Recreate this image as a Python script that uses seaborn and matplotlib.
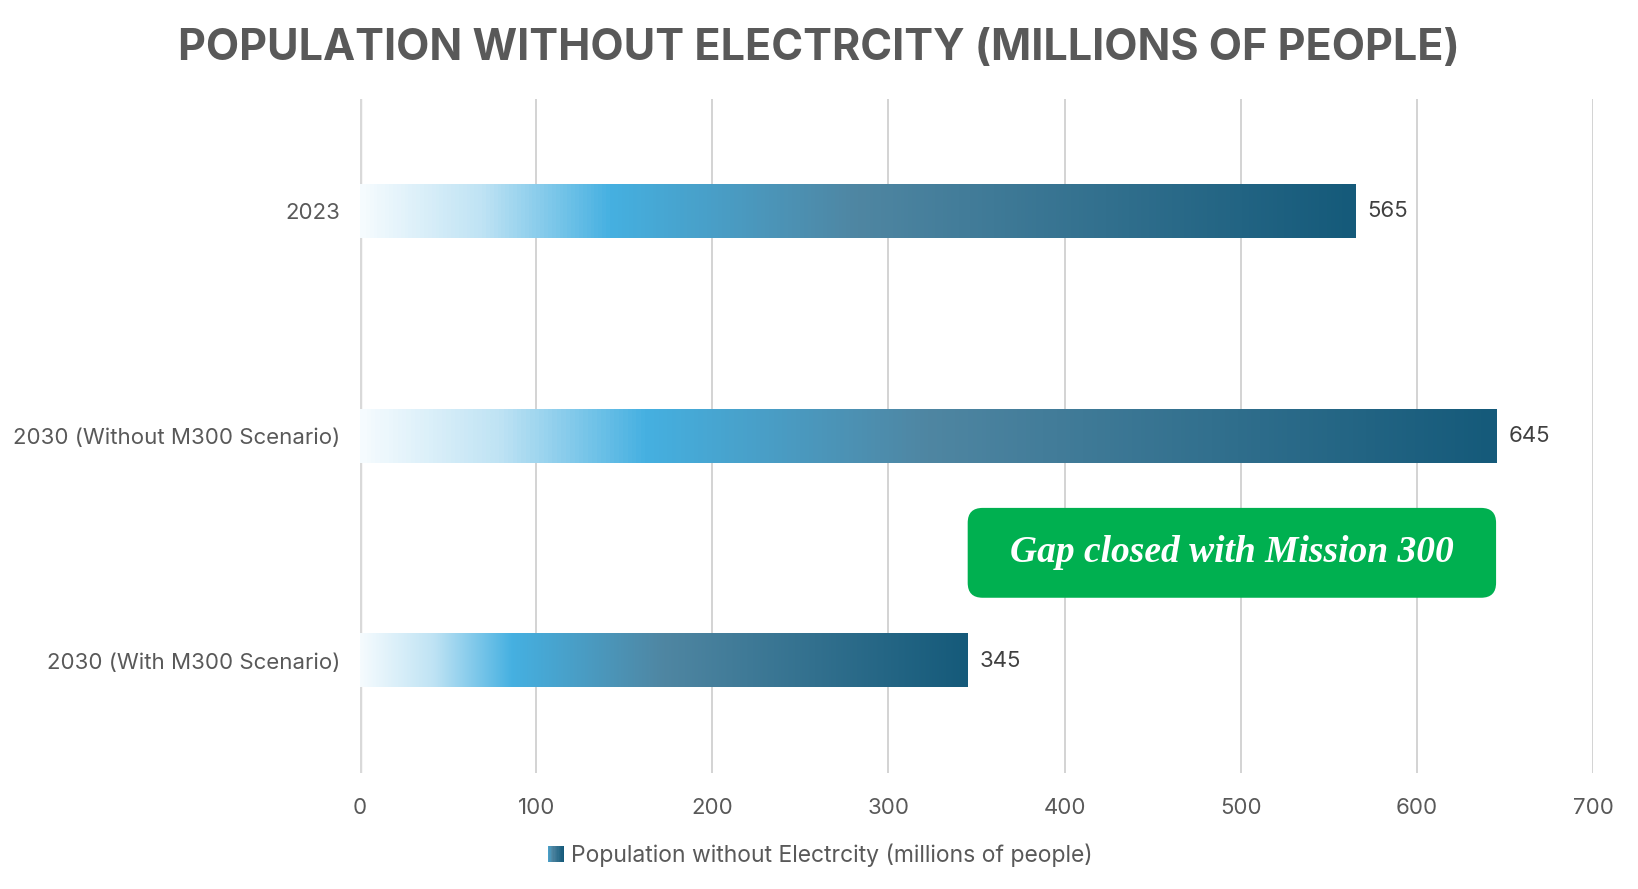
import matplotlib
matplotlib.use("Agg")
import numpy as np
import pandas as pd
import matplotlib.pyplot as plt
import seaborn as sns
from matplotlib.colors import LinearSegmentedColormap
from matplotlib.patches import FancyBboxPatch, Rectangle
from matplotlib.legend_handler import HandlerBase

# ---------------------------------------------------
# Data
# ---------------------------------------------------
categories = ["2023", "2030 (Without M300 Scenario)", "2030 (With M300 Scenario)"]
values = [565, 645, 345]
series_name = "Population without Electrcity (millions of people)"
title = "POPULATION WITHOUT ELECTRCITY (MILLIONS OF PEOPLE)"
note = "Gap closed with Mission 300"
gap_start, gap_end = 345, 645

df = pd.DataFrame({"category": categories, "value": values})

grey = "#595959"
bar_cmap = LinearSegmentedColormap.from_list(
    "bar_grad",
    [(0.0, "#f5fbfe"), (0.12, "#bfe3f4"), (0.25, "#45b0e1"),
     (0.5, "#4f86a2"), (1.0, "#155a7a")],
)

# ---------------------------------------------------
# Figure
# ---------------------------------------------------
sns.set_style("white")
plt.rcParams["font.family"] = ["Inter", "DejaVu Sans"]

fig = plt.figure(figsize=(16.38, 8.89), dpi=100)
ax = fig.add_axes([0.2198, 0.1305, 0.7527, 0.7581])

sns.barplot(data=df, x="value", y="category", orient="h", width=0.236,
            color="#2a7fa8", ax=ax)

# replace flat bars with horizontal gradients
grad = np.linspace(0, 1, 256).reshape(1, -1)
for patch in ax.patches:
    x0, y0 = patch.get_x(), patch.get_y()
    w, h = patch.get_width(), patch.get_height()
    patch.set_visible(False)
    ax.imshow(grad, extent=[x0, x0 + w, y0 + h, y0], aspect="auto",
              cmap=bar_cmap, zorder=2, interpolation="bilinear")
    ax.text(x0 + w + 7, y0 + h / 2, f"{w:.0f}", va="center", ha="left",
            fontsize=16, color="#404040")

ax.set_xlim(0, 700)
ax.set_ylim(2.5, -0.5)
ax.set_xticks(range(0, 701, 100))
ax.grid(axis="x", color="#d0d0d0", linewidth=1.3)
ax.set_axisbelow(True)
ax.axvline(0, color="#d9d9d9", linewidth=2.5, zorder=1)
for s in ax.spines.values():
    s.set_visible(False)
ax.tick_params(length=0, labelsize=16, labelcolor=grey, pad=18)
ax.tick_params(axis="y", pad=14)
ax.set_xlabel("")
ax.set_ylabel("")

# annotation box
px_x = 1233 / 700
px_y = 674 / 3
box = FancyBboxPatch((gap_start, 1.32), gap_end - gap_start, 0.40,
                     boxstyle="round,pad=0,rounding_size=8.5",
                     mutation_aspect=px_x / px_y,
                     facecolor="#00b050", edgecolor="none", zorder=3)
ax.add_patch(box)
ax.text((gap_start + gap_end) / 2, 1.52, note, ha="center", va="center",
        fontsize=27, color="white", fontweight="bold", fontstyle="italic",
        family="Liberation Serif", zorder=4)

fig.suptitle(title, x=0.5, y=0.968, fontsize=31, fontweight="bold",
             color=grey)


# legend with gradient swatch
class GradientHandler(HandlerBase):
    def create_artists(self, legend, orig_handle, xdescent, ydescent,
                       width, height, fontsize, trans):
        n = 12
        size = height
        x_start = width - size
        out = []
        for i in range(n):
            out.append(Rectangle((x_start + i * size / n - xdescent, -ydescent),
                                 size / n, size,
                                 facecolor=bar_cmap(0.35 + 0.65 * i / (n - 1)),
                                 edgecolor="none", transform=trans))
        return out


handle = Rectangle((0, 0), 1, 1)
fig.legend([handle], [series_name], handler_map={Rectangle: GradientHandler()},
           loc="center", bbox_to_anchor=(0.5, 0.038), frameon=False,
           fontsize=16.5, labelcolor=grey, handlelength=0.8, handletextpad=0.3)

fig.savefig("out.png", dpi=100)
